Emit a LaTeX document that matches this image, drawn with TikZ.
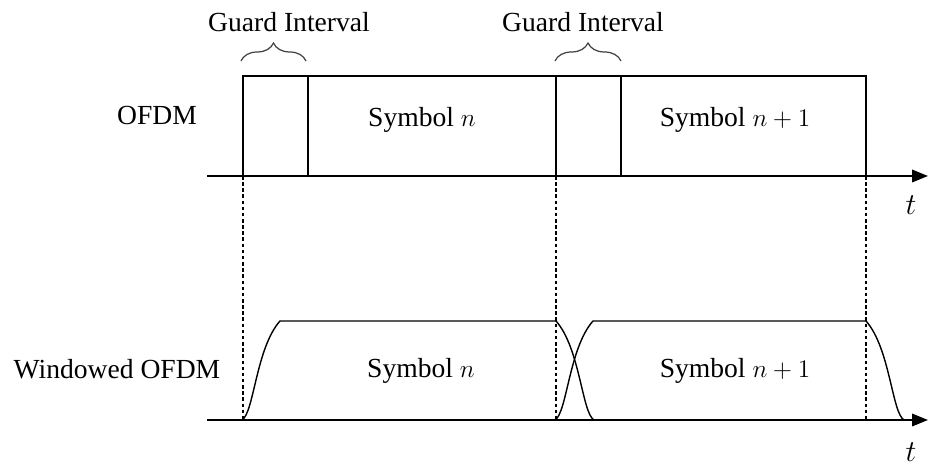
\documentclass[tikz,border=0pt]{standalone}
\usepackage{fontspec}
\setmainfont{Liberation Serif}
\usepackage{tikz}
\usetikzlibrary{positioning,
                arrows.meta,                % arrow tips
                decorations.pathreplacing}  % braces

\begin{document}
\begin{tikzpicture}[font=\fontsize{15.7}{18}\selectfont]
        \useasboundingbox (0,0) rectangle (18.72,9.36);
        \tikzset{axis/.style={line width=1.3pt, -{Triangle[length=9pt, width=7pt]}},
                 sep/.style={line width=1.4pt},
                 guard/.style={decorate, decoration={brace, amplitude=0.36cm}, gray!50!black, line width=0.7pt},
                 tlabel/.style={anchor=base, inner sep=0pt, font=\fontsize{18}{20}\selectfont}}

        % upper trace: plain OFDM symbols with cyclic prefix
        \draw[line width=0.8pt] (4.86,5.84) |- (17.32,7.84) -- (17.32,5.84);
        \foreach \x in {6.16, 11.12, 12.42}
        { \draw[sep] (\x,5.84) -- (\x,7.84);
        }
        \draw[guard] (4.82,8.14) -- (6.12,8.14);
        \draw[guard] (11.10,8.14) -- (12.42,8.14);
        \node[anchor=base] (gi1) at (5.78,8.72) {Guard Interval};
        \node[anchor=base] (gi2) at (11.66,8.72) {Guard Interval};
        \node[anchor=base] (ofdm) at (3.14,6.86) {OFDM};
        \node[anchor=base] (symn) at (8.44,6.82) {Symbol $n$};
        \node[anchor=base] (symm) at (14.7,6.82) {Symbol $n+1$};

        % symbol boundaries
        \foreach \x in {4.86, 11.12, 17.32}
        { \draw[line width=1pt, dash pattern=on 2pt off 1.5pt] (\x,5.84) -- (\x,0.96);
        }

        % lower trace: windowed symbols with raised-cosine edges
        \foreach \s/\e in {4.86/11.12, 11.12/17.32}
        { \draw[line width=0.8pt] (\s-0.02,0.96)
            .. controls (\s+0.22,1.1) and (\s+0.26,2.4) .. (\s+0.74,2.94)
            -- (\e,2.94)
            .. controls (\e+0.48,2.4) and (\e+0.52,1.1) .. (\e+0.76,0.96);
        }
        \node[anchor=base] (wofdm) at (2.34,1.78) {Windowed OFDM};
        \node[anchor=base] (wsymn) at (8.42,1.8) {Symbol $n$};
        \node[anchor=base] (wsymm) at (14.7,1.8) {Symbol $n+1$};

        % time axes
        \draw[axis] (4.14,5.84) -- (18.56,5.84);
        \draw[axis] (4.14,0.96) -- (18.56,0.96);
        \node[tlabel] (t1) at (18.22,5.06) {$t$};
        \node[tlabel] (t2) at (18.22,0.12) {$t$};
\end{tikzpicture}
\end{document}
